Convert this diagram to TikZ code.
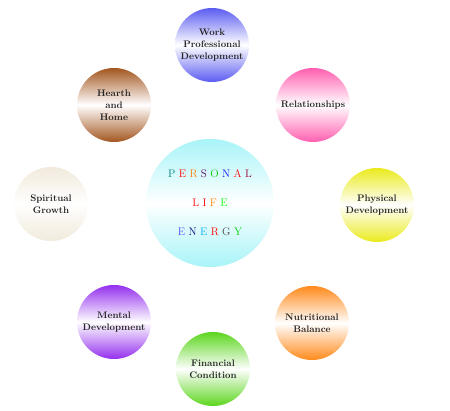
\documentclass[tikz,border=0pt]{standalone}
\usepackage{xcolor}
\usepackage{tikz}
\usetikzlibrary{positioning}

\definecolor{workblue}{HTML}{5C5CF2}
\definecolor{relpink}{HTML}{FF5FB0}
\definecolor{physyellow}{HTML}{EAEA1E}
\definecolor{nutorange}{HTML}{FF8A1C}
\definecolor{fingreen}{HTML}{5CD61E}
\definecolor{mentpurple}{HTML}{9430EE}
\definecolor{spirbeige}{HTML}{F1EADC}
\definecolor{hearthbrown}{HTML}{A3561F}
\definecolor{lifecyan}{HTML}{A8F4F8}

\newcommand{\ltr}[2]{\textcolor{#1}{#2}\hspace{3.4pt}}

\begin{document}
\begin{tikzpicture}[
  x=1pt, y=1pt,
  area/.style={circle, minimum size=74pt, inner sep=0pt, align=center,
    font=\fontsize{9.5}{12}\selectfont\bfseries, text=black!85,
    top color=#1, bottom color=#1, middle color=white},
  core/.style={circle, minimum size=128pt, inner sep=0pt, align=center,
    font=\fontsize{11}{13}\selectfont,
    top color=lifecyan, bottom color=lifecyan, middle color=white}
]
\useasboundingbox (0,0) rectangle (450,-410);

\node[core] (life) at (210,-203) {%
  \ltr{teal}{P}\ltr{red}{E}\ltr{orange}{R}\ltr{violet!70!black}{S}\ltr{green!80!black}{O}\ltr{blue}{N}\ltr{red}{A}\textcolor{purple!80!black}{L}\\[16pt]
  \ltr{red}{L}\ltr{red}{I}\ltr{orange}{F}\textcolor{green}{E}\\[16pt]
  \ltr{blue!70}{E}\ltr{blue!50!black}{N}\ltr{cyan}{E}\ltr{red}{R}\ltr{black!70}{G}\textcolor{green!80!black}{Y}};

\node[area=workblue] (work) at (212,-45) {Work\\Professional\\Development};
\node[area=relpink] (relations) at (313,-105) {Relationships};
\node[area=physyellow] (physical) at (377,-205) {Physical\\Development};
\node[area=nutorange] (nutrition) at (312,-323) {Nutritional\\Balance};
\node[area=fingreen] (finance) at (213,-369) {Financial\\Condition};
\node[area=mentpurple] (mental) at (114,-322) {Mental\\Development};
\node[area=spirbeige] (spiritual) at (51,-204) {Spiritual\\Growth};
\node[area=hearthbrown] (hearth) at (114,-105) {Hearth\\and\\Home};
\end{tikzpicture}
\end{document}
